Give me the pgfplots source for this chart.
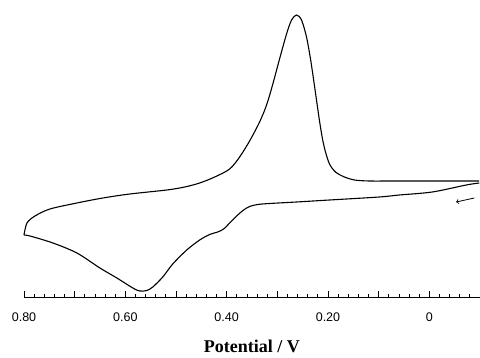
\documentclass[border=0pt]{standalone}
\usepackage{fontspec}
\setmainfont{Liberation Serif}
\newfontfamily\tickfont{Liberation Sans}
\usepackage{pgfplots}
\pgfplotsset{compat=1.18}
\begin{document}
\begin{tikzpicture}
\useasboundingbox (0,0) rectangle (480pt,358pt);
\begin{axis}[
  at={(24pt,61pt)}, anchor=south west,
  scale only axis, width=456pt, height=297pt,
  xmin=-0.1, xmax=0.8, ymin=0, ymax=297,
  x dir=reverse,
  axis x line*=bottom, axis y line=none,
  axis line style={line width=0.9pt},
  tick align=inside,
  xtick={-0.1,0,0.1,0.2,0.3,0.4,0.5,0.6,0.7,0.8},
  xticklabels={,0,,0.20,,0.40,,0.60,,0.80},
  minor x tick num=4,
  major tick length=6pt, minor tick length=3pt,
  every tick/.style={line width=0.8pt, black},
  xticklabel style={font=\tickfont\fontsize{12.5}{12.5}\selectfont, anchor=base, yshift=-25pt},
  xlabel={Potential / V},
  xlabel style={at={(axis description cs:0.5,0)}, anchor=base, yshift=-56pt, font=\fontsize{18}{18}\selectfont\bfseries},
  clip=false,
]
% upper branch
\addplot[black, line width=1.1pt, smooth, tension=0.5] coordinates {
(0.8000,62) (0.7941,74) (0.7783,81) (0.7488,88) (0.6956,94) (0.6443,99)
(0.5911,103) (0.5182,107) (0.4828,110) (0.4532,114) (0.4236,120) (0.3941,128)
(0.3744,140) (0.3547,156) (0.3350,175) (0.3212,192) (0.3094,212) (0.2956,238)
(0.2818,263) (0.2719,277) (0.2621,282) (0.2522,277) (0.2424,260) (0.2345,238)
(0.2286,218) (0.2227,197) (0.2167,176) (0.2108,158) (0.2049,145) (0.1970,133)
(0.1852,125) (0.1675,120) (0.1478,117) (0.1182,116) (0.0591,116) (-0.0985,116)
};
% lower branch
\addplot[black, line width=1.1pt, smooth, tension=0.5] coordinates {
(-0.0985,114) (-0.0729,112) (-0.0059,105) (0.0591,102) (0.0985,100) (0.1970,97)
(0.2621,95) (0.3153,93.5) (0.3389,92.5) (0.3547,90.5) (0.3665,87) (0.3803,81)
(0.3941,74) (0.4059,68) (0.4177,65) (0.4335,62.5) (0.4532,57) (0.4788,47)
(0.5064,33) (0.5261,20) (0.5458,10) (0.5576,6.5) (0.5714,6) (0.5852,9)
(0.6167,19) (0.6502,29) (0.6956,44) (0.7429,54) (0.7882,61) (0.8000,62)
};
\draw[->, line width=0.8pt] (axis cs:-0.089,99) -- (axis cs:-0.053,95);
\end{axis}
\end{tikzpicture}
\end{document}
